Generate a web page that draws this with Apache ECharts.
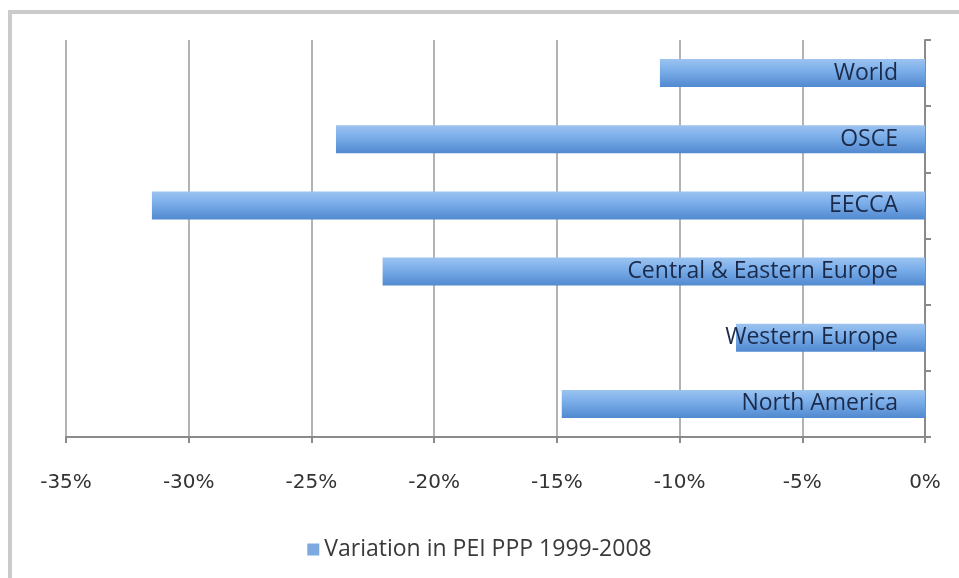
<!DOCTYPE html>
<html>
<head>
<meta charset="utf-8">
<script src="https://cdn.jsdelivr.net/npm/echarts@6/dist/echarts.min.js"></script>
<style>
html, body { margin: 0; padding: 0; background: #fff; }
#main { width: 959px; height: 578px; }
</style>
</head>
<body>
<div id="main"></div>
<script>
var myChart = echarts.init(document.getElementById('main'));

// categories bottom -> top
var regions = ['North America', 'Western Europe', 'Central & Eastern Europe', 'EECCA', 'OSCE', 'World'];
var variation = [-14.8, -7.7, -22.1, -31.5, -24.0, -10.8];
var seriesName = 'Variation in PEI PPP 1999-2008';

var option = {
	backgroundColor: '#fff',
	animation: false,
	textStyle: { fontFamily: 'Open Sans' },
	graphic: [
		{ type: 'line', shape: { x1: 8, y1: 12, x2: 959, y2: 12 }, style: { stroke: '#cbcbcb', lineWidth: 4 } },
		{ type: 'line', shape: { x1: 10, y1: 10, x2: 10, y2: 578 }, style: { stroke: '#cbcbcb', lineWidth: 4 } }
	],
	legend: {
		bottom: 12,
		left: 'center',
		data: [{ name: seriesName, icon: 'rect', itemStyle: { color: '#7ea8e0' } }],
		itemWidth: 12,
		itemHeight: 12,
		itemGap: 6,
		textStyle: { color: '#3a3a3a', fontSize: 23, fontFamily: 'Open Sans' }
	},
	grid: {
		left: 66,
		right: 34,
		top: 40,
		bottom: 141,
		containLabel: false
	},
	xAxis: {
		type: 'value',
		min: -35,
		max: 0,
		interval: 5,
		axisLine: { show: true, lineStyle: { color: '#8a8a8a', width: 2 } },
		axisTick: { show: true, length: 6, lineStyle: { color: '#8a8a8a', width: 2 } },
		splitLine: { show: true, lineStyle: { color: '#b3b3b3', width: 2 } },
		axisLabel: {
			color: '#333',
			fontSize: 20,
			fontFamily: 'DejaVu Sans',
			margin: 36,
			formatter: function (v) { return v + '%'; }
		}
	},
	yAxis: {
		type: 'category',
		position: 'right',
		data: regions,
		axisLine: { show: true, lineStyle: { color: '#8a8a8a', width: 2 } },
		axisTick: { show: true, inside: false, length: 6, lineStyle: { color: '#8a8a8a', width: 2 } },
		axisLabel: { show: false },
		splitLine: { show: false }
	},
	series: [{
		name: seriesName,
		type: 'bar',
		data: variation,
		barWidth: 28,
		barCategoryGap: '58%',
		itemStyle: {
			color: new echarts.graphic.LinearGradient(0, 0, 0, 1, [
				{ offset: 0, color: '#9cc3f0' },
				{ offset: 0.4, color: '#7cafea' },
				{ offset: 1, color: '#5189d0' }
			])
		},
		label: {
			show: true,
			position: 'insideRight',
			distance: 27,
			formatter: '{b}',
			color: '#1c2a4a',
			fontSize: 23,
			fontFamily: 'Open Sans'
		}
	}]
};
myChart.setOption(option, true);
</script>
</body>
</html>
